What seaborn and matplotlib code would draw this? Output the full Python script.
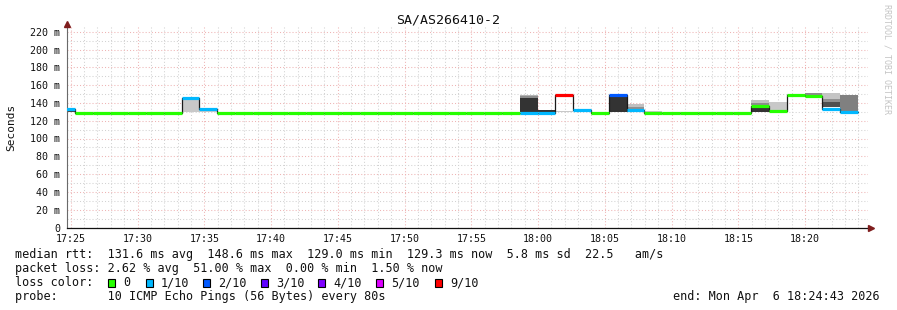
import numpy as np
import pandas as pd
import matplotlib
matplotlib.use("Agg")
import matplotlib.pyplot as plt
import matplotlib.dates as mdates
from matplotlib.patches import Rectangle
import seaborn as sns

# ---------------- data ----------------
title = "SA/AS266410-2"
graph_start = pd.Timestamp("2026-04-06 17:24:43")
graph_end = pd.Timestamp("2026-04-06 18:24:43")
first_step = pd.Timestamp("2026-04-06 17:23:58")
step_seconds = 80

median_ms = [132.8, 129.0, 129.1, 129.0, 129.0, 129.1, 129.0, 145.5, 133.1,
             129.0, 129.1, 129.0, 129.0, 129.1, 129.0, 129.0, 129.1, 129.0,
             129.0, 129.1, 129.0, 129.0, 129.1, 129.0, 129.0, 129.1,
             128.9, 129.0, 149.3, 132.2, 129.0, 148.5, 132.2, 129.0,
             129.0, 129.1, 129.0, 129.0, 129.1,
             136.2, 130.5, 148.7, 147.4, 133.7, 129.5]
loss_tenths = [1, 0, 0, 0, 0, 0, 0, 1, 1,
               0, 0, 0, 0, 0, 0, 0, 0, 0,
               0, 0, 0, 0, 0, 0, 0, 0,
               1, 1, 9, 1, 0, 2, 1, 0,
               0, 0, 0, 0, 0,
               0, 0, 0, 0, 1, 1]

smoke_step = [0, 7, 8, 26, 26, 26, 27, 28, 31, 32, 32, 32, 33,
              39, 39, 39, 40, 41, 42, 43, 43, 43, 44]
smoke_lo = [129.5, 129.5, 129.4, 147.5, 145.5, 129.5, 129.5, 129.3, 129.8,
            135.0, 133.0, 129.8, 129.4, 140.0, 137.5, 129.5, 131.0, 148.0,
            146.5, 144.7, 141.0, 135.0, 130.5]
smoke_hi = [131.0, 145.0, 131.5, 148.5, 147.5, 145.5, 132.0, 130.5, 147.0,
            139.0, 135.0, 131.5, 131.0, 143.5, 140.0, 135.0, 141.0, 150.5,
            151.0, 150.8, 144.7, 141.0, 149.0]
smoke_shade = ["#444444", "#c8c8c8", "#c8c8c8", "#b4b4b4", "#8c8c8c", "#333333",
               "#333333", "#c8c8c8", "#333333", "#c0c0c0", "#909090", "#333333",
               "#c8c8c8", "#c0c0c0", "#8c8c8c", "#333333", "#c8c8c8", "#c8c8c8",
               "#8c8c8c", "#c4c4c4", "#909090", "#505050", "#808080"]

loss_levels = [0, 1, 2, 3, 4, 5, 9]
loss_labels = ["0", "1/10", "2/10", "3/10", "4/10", "5/10", "9/10"]
loss_colors = ["#26ff00", "#00b8ff", "#0059ff", "#5e00ff", "#7e00ff", "#dd00ff", "#ff0000"]

stats_rtt = "median rtt:  131.6 ms avg  148.6 ms max  129.0 ms min  129.3 ms now  5.8 ms sd  22.5   am/s"
stats_loss = "packet loss: 2.62 % avg  51.00 % max  0.00 % min  1.50 % now"
loss_title = "loss color:"
probe_text = "probe:       10 ICMP Echo Pings (56 Bytes) every 80s"
end_text = "end: Mon Apr  6 18:24:43 2026"
ylabel = "Seconds"
watermark = "RRDTOOL / TOBI OETIKER"

# ---------------- style ----------------
sns.set_theme(style="white")
plt.rcParams["font.family"] = ["DejaVu Sans Mono", "DejaVu Sans"]
plt.rcParams["axes.unicode_minus"] = False

W, H = 897, 310
fig = plt.figure(figsize=(W / 100, H / 100), dpi=100)
fig.patch.set_facecolor("white")

px_per_ms = (227.5 - 31.7) / 220.0
ymax = 226
ax_h = ymax * px_per_ms
ax = fig.add_axes([67 / W, (H - 227.5) / H, 801 / W, ax_h / H])
ax.set_facecolor("white")

n = len(median_ms)
step_starts = pd.date_range(first_step, periods=n, freq=f"{step_seconds}s")
step_ends = step_starts + pd.Timedelta(seconds=step_seconds)
edges = step_starts.append(step_ends[-1:])

# smoke
smoke_x = mdates.date2num(step_starts[smoke_step])
ax.bar(smoke_x, np.array(smoke_hi) - np.array(smoke_lo), bottom=smoke_lo,
       width=step_seconds / 86400.0, align="edge", color=smoke_shade,
       linewidth=0, zorder=2)

# median (black step line)
df = pd.DataFrame({"time": edges, "rtt": median_ms + median_ms[-1:]})
sns.lineplot(data=df, x="time", y="rtt", ax=ax, drawstyle="steps-post",
             color="#1a1a1a", linewidth=0.9, estimator=None, legend=False,
             zorder=3)

# loss-coloured median segments
cmap = dict(zip(loss_levels, loss_colors))
ax.hlines(median_ms, mdates.date2num(step_starts), mdates.date2num(step_ends),
          colors=[cmap[l] for l in loss_tenths], linewidth=2.3,
          capstyle="butt", zorder=4)

# axes
ax.set_xlim(graph_start, graph_end)
ax.set_ylim(0, ymax)
ax.set_xlabel("")
ax.set_ylabel("")
ax.xaxis.set_major_locator(mdates.MinuteLocator(byminute=range(0, 60, 5)))
ax.xaxis.set_minor_locator(mdates.MinuteLocator())
ax.xaxis.set_major_formatter(mdates.DateFormatter("%H:%M"))
ax.set_yticks(np.arange(0, 221, 20))
ax.set_yticks(np.arange(10, 221, 20), minor=True)
ax.set_yticklabels(["0" if v == 0 else f"{v} m" for v in np.arange(0, 221, 20)])

ax.grid(which="major", color="#eeb4b4", linestyle=(0, (1.0, 2.0)), linewidth=0.75)
ax.grid(which="minor", color="#d2d2d2", linestyle=(0, (1.0, 2.0)), linewidth=0.75)
ax.set_axisbelow(True)

for s in ("top", "right"):
    ax.spines[s].set_visible(False)
ax.spines["left"].set_color("#6a6a6a")
ax.spines["left"].set_linewidth(0.8)
ax.spines["bottom"].set_color("#111111")
ax.spines["bottom"].set_linewidth(0.9)

ax.tick_params(axis="both", which="major", direction="inout", length=3.5,
               width=0.7, labelsize=7.2, pad=3, colors="#111111")
ax.tick_params(axis="both", which="minor", direction="out", length=1.5,
               width=0.6, colors="#777777")
ax.tick_params(axis="y", which="major", color="#777777")
for lab in ax.get_xticklabels() + ax.get_yticklabels():
    lab.set_color("#111111")

# arrows
ax.plot([0], [1.013], marker="^", markersize=4, color="#7f1d1d",
        transform=ax.transAxes, clip_on=False, zorder=6)
ax.plot([1.004], [0], marker=">", markersize=4, color="#7f1d1d",
        transform=ax.transAxes, clip_on=False, zorder=6)

# titles
fig.text(448 / W, 1 - 20 / H, title, ha="center", va="center", fontsize=9.5,
         color="#111111")
fig.text(11 / W, 1 - 127 / H, ylabel, ha="center", va="center", rotation=90,
         fontsize=8, color="#111111")
fig.text(887 / W, 1 - 59 / H, watermark, ha="center", va="center",
         rotation=270, fontsize=6, color="#c4c4c4")

# legend text
fs = 8.5
def ftxt(x, ybase, s, **kw):
    fig.text(x / W, 1 - ybase / H, s, ha=kw.pop("ha", "left"), va="baseline",
             fontsize=fs, color="#111111", **kw)

ftxt(15, 258.3, stats_rtt)
ftxt(15, 272.3, stats_loss)
ftxt(15, 286.2, loss_title)
ftxt(15, 300.0, probe_text)
ftxt(880, 300.0, end_text, ha="right")

sq_centers = [111.7, 149.0, 206.7, 264.3, 321.7, 379.3, 438.3]
for cx, lab, col in zip(sq_centers, loss_labels, loss_colors):
    fig.patches.append(Rectangle(((cx - 3.5) / W, 1 - 286.7 / H), 7 / W, 7.4 / H,
                                 transform=fig.transFigure, facecolor=col,
                                 edgecolor="#000000", linewidth=0.8))
    ftxt(cx + 11.6, 286.2, lab)

fig.savefig("out.png", dpi=100, facecolor="white")
